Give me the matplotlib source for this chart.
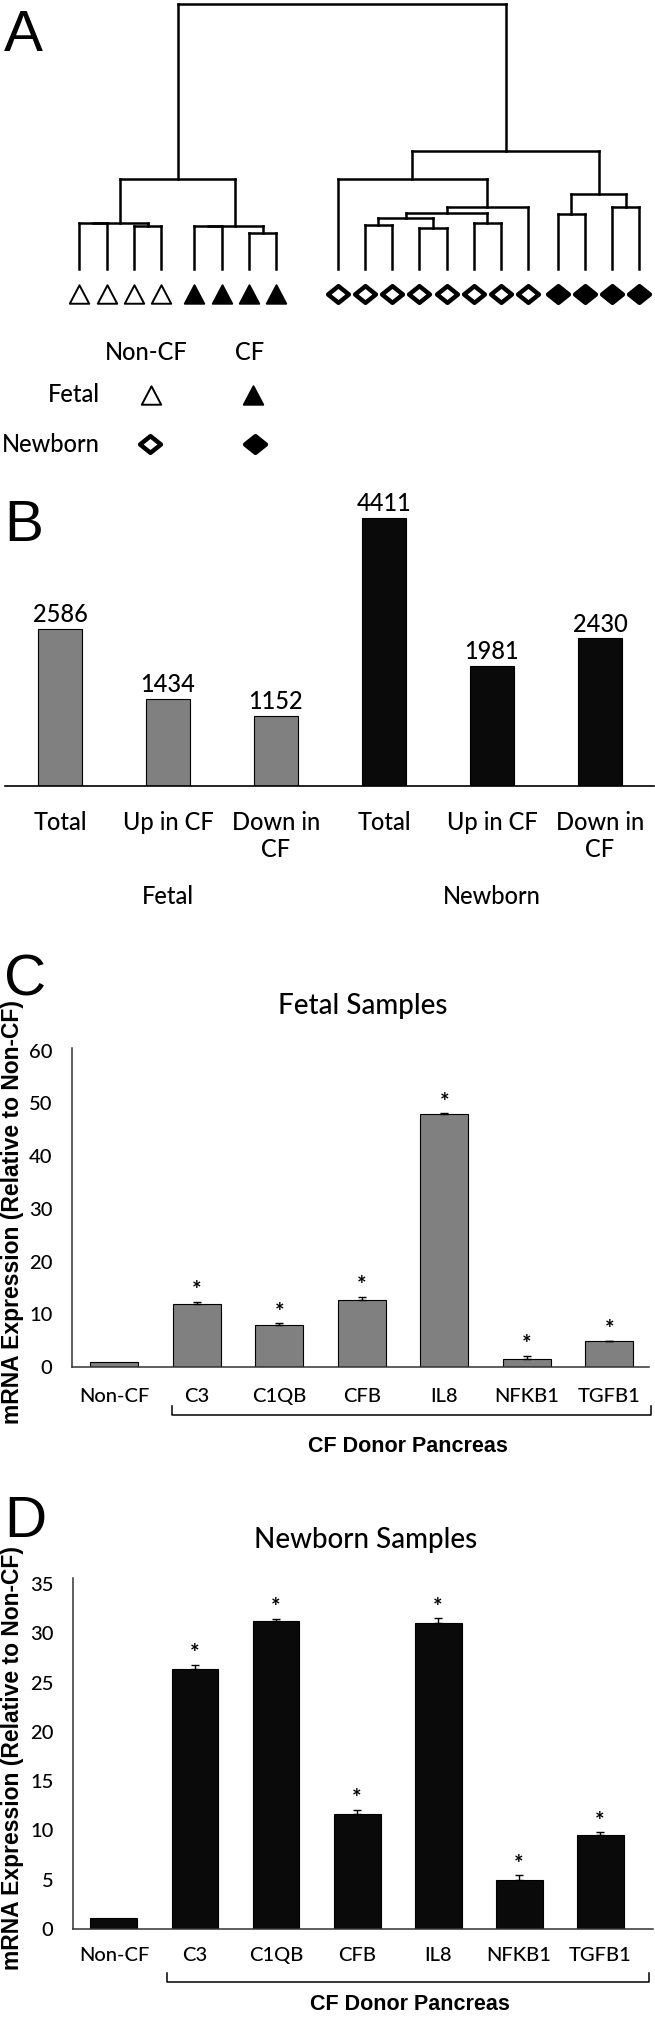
import matplotlib
matplotlib.use('Agg')
import matplotlib.pyplot as plt
from matplotlib.path import Path
from matplotlib.transforms import blended_transform_factory
import numpy as np

W, H = 655, 2018
plt.rcParams['font.family'] = ['Lato', 'DejaVu Sans']
plt.rcParams['font.weight'] = 'medium'

# ---------------- data ----------------
# Panel A: hierarchical clustering of samples (leaf order left to right)
leaf_group = [0] * 4 + [1] * 4 + [2] * 8 + [3] * 4
group_names = ['Fetal Non-CF', 'Fetal CF', 'Newborn Non-CF', 'Newborn CF']
# node = (merge height, [children]); leaves are integers
fetal_tree = (34.0, [(17.4, [(17.4, [0, 1]), (16.2, [2, 3])]),
                     (16.2, [(16.2, [4, 5]), (13.5, [6, 7])])])
newborn_tree = (44.5, [(34.0, [8, (23.5, [(21.2, [(19.1, [(16.6, [9, 10]), (15.6, [11, 12])]),
                                                  (17.2, [13, 14])]), 15])]),
                       (28.3, [(20.8, [16, 17]), (23.5, [18, 19])])])
tree = (100.0, [fetal_tree, newborn_tree])

# Panel B: differentially expressed genes
b_labels = ['Total', 'Up in CF', 'Down in\nCF', 'Total', 'Up in CF', 'Down in\nCF']
b_stage = ['Fetal'] * 3 + ['Newborn'] * 3
b_values = [2586, 1434, 1152, 4411, 1981, 2430]

# Panels C, D: qPCR
genes = ['Non-CF', 'C3', 'C1QB', 'CFB', 'IL8', 'NFKB1', 'TGFB1']
fetal_expr = [1.0, 11.9, 8.0, 12.8, 47.9, 1.6, 4.9]
fetal_err = [0.0, 0.5, 0.3, 0.5, 0.2, 0.5, 0.1]
newborn_expr = [1.15, 26.4, 31.2, 11.7, 31.0, 5.0, 9.5]
newborn_err = [0.0, 0.4, 0.25, 0.4, 0.5, 0.45, 0.3]
significant = [False, True, True, True, True, True, True]

# ---------------- layout ----------------
fig = plt.figure(figsize=(W / 100, H / 100), dpi=100)


def px_axes(left, top, right, bottom):
    return fig.add_axes([left / W, 1 - bottom / H, (right - left) / W, (bottom - top) / H])


ov = px_axes(0, 0, W, H)
ov.set_xlim(0, W)
ov.set_ylim(H, 0)
ov.axis('off')
ov.set_zorder(10)

ARIAL = ['Liberation Sans', 'DejaVu Sans']
LETTER = dict(fontsize=42, family=ARIAL, weight='normal', ha='left', va='baseline')
ov.text(4, 51, 'A', **LETTER)
ov.text(4, 541, 'B', **LETTER)
ov.text(4, 995, 'C', **LETTER)
ov.text(4, 1537, 'D', **LETTER)

# ---------------- Panel A ----------------
UNIT, X0, HSC, Y0 = 27.25, 79.5, 2.65, 269
axA = px_axes(0, 0, W, 320)
axA.set_xlim(-X0 / UNIT, (W - X0) / UNIT)
axA.set_ylim((Y0 - 320) / HSC, Y0 / HSC)
axA.axis('off')
group_offset = [0, 0.22, 1.47, 1.55]


def leaf_pos(i):
    return i + group_offset[leaf_group[i]]


def draw_node(node):
    if isinstance(node, int):
        return leaf_pos(node), 0.0
    h, children = node
    pts = [draw_node(c) for c in children]
    xs = [p[0] for p in pts]
    for x, y in pts:
        axA.plot([x, x], [y, h], color='black', lw=1.8, solid_capstyle='projecting')
    axA.plot([min(xs), max(xs)], [h, h], color='black', lw=1.8, solid_capstyle='projecting')
    return float(np.mean(xs)), h


draw_node(tree)

tri = Path([(-1, -0.95), (1, -0.95), (0, 0.95), (-1, -0.95)], closed=True)
dia = Path([(-1, 0), (0, 0.8), (1, 0), (0, -0.8), (-1, 0)], closed=True)
mstyle = {
    0: dict(marker=tri, mfc='white', mec='black', mew=1.4, ms=14),
    1: dict(marker=tri, mfc='black', mec='black', mew=1.4, ms=14),
    2: dict(marker=dia, mfc='white', mec='black', mew=3.2, ms=15),
    3: dict(marker=dia, mfc='black', mec='black', mew=3.2, ms=15),
}
h_mark = (Y0 - 294) / HSC
for g in range(4):
    xs = [leaf_pos(i) for i in range(len(leaf_group)) if leaf_group[i] == g]
    axA.plot(xs, [h_mark] * len(xs), ls='none', clip_on=False, **mstyle[g])

# legend
LEG = dict(fontsize=17)
ov.text(146, 352, 'Non-CF', ha='center', va='center', **LEG)
ov.text(250, 352, 'CF', ha='center', va='center', **LEG)
ov.text(100, 395, 'Fetal', ha='right', va='center', **LEG)
ov.text(100, 445, 'Newborn', ha='right', va='center', **LEG)
ov.plot([151], [395], ls='none', **mstyle[0])
ov.plot([253], [395], ls='none', **mstyle[1])
ov.plot([150], [444], ls='none', **mstyle[2])
ov.plot([255], [444], ls='none', **mstyle[3])

# ---------------- Panel B ----------------
BSC = 0.0607
axB = px_axes(5, 786 - 4800 * BSC, 654, 786)
xb = np.arange(len(b_values))
b_colors = ['#808080' if s == 'Fetal' else '#0a0a0a' for s in b_stage]
axB.bar(xb, b_values, width=0.4, color=b_colors, edgecolor='black', linewidth=0.8)
axB.set_xlim(-0.509, 5.5)
axB.set_ylim(0, 4800)
for s in ['top', 'right', 'left']:
    axB.spines[s].set_visible(False)
axB.spines['bottom'].set_linewidth(1.2)
axB.set_yticks([])
axB.set_xticks(xb, b_labels, fontsize=17, linespacing=1.2)
axB.tick_params(axis='x', length=0, pad=18)
for x, v in zip(xb, b_values):
    axB.annotate(f'{v}', (x, v), xytext=(0, 5), textcoords='offset points',
                 ha='center', va='baseline', fontsize=17)
transB = blended_transform_factory(axB.transData, ov.transData)
for stage in ['Fetal', 'Newborn']:
    xc = np.mean([x for x, s in zip(xb, b_stage) if s == stage])
    axB.text(xc, 897, stage, transform=transB, ha='center', va='center', fontsize=17)


# ---------------- Panels C, D ----------------
def expr_panel(rect, xlim, ylim, yticks, vals, errs, color, title, title_y,
               bracket_x, bracket_y, donor_y, xpad):
    ax = px_axes(*rect)
    x = np.arange(len(genes))
    ax.bar(x, vals, width=0.58, color=color, edgecolor='black', linewidth=0.8, zorder=2)
    for xi, v, e, sig in zip(x, vals, errs, significant):
        if e > 0:
            ax.errorbar([xi], [v], yerr=[[0], [e]], fmt='none', ecolor='black',
                        elinewidth=1.0, capsize=3, capthick=1.0, zorder=3)
        if sig:
            ax.annotate('*', (xi, v + e), xytext=(0, 8), textcoords='offset points',
                        ha='center', va='center', fontsize=16, weight='bold')
    ax.set_xlim(*xlim)
    ax.set_ylim(*ylim)
    for s in ['top', 'right']:
        ax.spines[s].set_visible(False)
    for s in ['left', 'bottom']:
        ax.spines[s].set_linewidth(1.1)
        ax.spines[s].set_color('#333333')
    ax.set_yticks(yticks, [str(t) for t in yticks], fontsize=14.5)
    ax.set_xticks(x, genes, fontsize=14.5)
    ax.tick_params(axis='y', length=0, pad=14)
    ax.tick_params(axis='x', length=0, pad=xpad)
    tr = blended_transform_factory(ax.transData, ov.transData)
    x0, x1 = bracket_x
    yl, yt = bracket_y
    ax.plot([x0, x0, x1, x1], [yt, yl, yl, yt], color='black', lw=1.1,
            transform=tr, clip_on=False)
    xc_px = (rect[0] + rect[2]) / 2
    ov.text(xc_px + 47, donor_y, 'CF Donor Pancreas', ha='center', va='center',
            fontsize=15.5, weight='bold', family=ARIAL)
    ov.text(xc_px + 2, title_y, title, ha='center', va='center', fontsize=20)
    ov.text(13, (rect[1] + rect[3]) / 2 + 5, 'mRNA Expression (Relative to Non-CF)',
            rotation=90, ha='center', va='center', fontsize=16.5, weight='bold',
            family=ARIAL)
    return ax


expr_panel((72, 1048, 649, 1367), (-0.51, 6.48), (0, 60.5), list(range(0, 61, 10)),
           fetal_expr, fetal_err, '#808080', 'Fetal Samples', 1006,
           (1 - 0.3, 6.5), (1415, 1406), 1447, 15)
expr_panel((73, 1578, 653.5, 1929), (-0.506, 6.66), (0, 35.6), list(range(0, 36, 5)),
           newborn_expr, newborn_err, '#0a0a0a', 'Newborn Samples', 1540,
           (1 - 0.35, 6.6), (1982, 1973), 2005, 13)

fig.savefig('out.png', dpi=100)
